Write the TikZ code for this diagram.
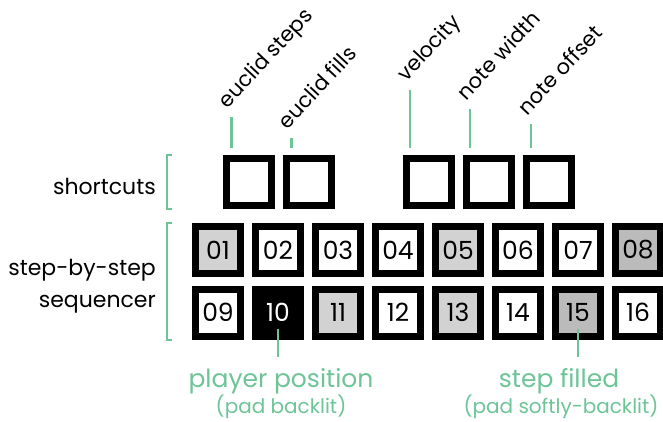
\documentclass[tikz,border=0pt]{standalone}
\usepackage{fontspec}
\setmainfont{Poppins}
\usetikzlibrary{positioning}
\definecolor{mint}{HTML}{6DC497}
\definecolor{dimgr}{HTML}{D2D2D2}
\definecolor{midgr}{HTML}{BBBBBB}
\tikzset{pad/.style={draw,line width=7pt,minimum width=45pt,minimum height=47pt,inner sep=0pt,font=\fontsize{25}{25}\selectfont},padlit/.style={pad,fill=dimgr},padsoft/.style={pad,fill=midgr},padhit/.style={pad,fill=black,text=white},lead/.style={mint,line width=2.2pt},brk/.style={mint,line width=2pt},toplab/.style={rotate=47,anchor=south west,inner sep=3pt,text depth=5pt,font=\fontsize{21}{21}\selectfont},sidelab/.style={inner sep=0pt,align=right,font=\fontsize{22}{32}\selectfont},botlab/.style={mint,anchor=base,inner sep=0pt,font=\fontsize{25}{25}\selectfont},sublab/.style={botlab,font=\fontsize{20}{20}\selectfont}}

\begin{document}
\begin{tikzpicture}[x=1pt,y=-1pt]
\useasboundingbox(0,0)rectangle(663,421);
% shortcut pads
\node[pad](s1)at(248.5,182){};\node[pad](s2)at(308.5,182){};
\node[pad](s3)at(429,182){};\node[pad](s4)at(489,182){};\node[pad](s5)at(549,182){};
% step pads
\node[padlit](p1)at(218,250){01};\node[pad](p2)at(278,250){02};\node[pad](p3)at(338,250){03};\node[pad](p4)at(398,250){04};
\node[padlit](p5)at(458,250){05};\node[pad](p6)at(518,250){06};\node[pad](p7)at(578,250){07};\node[padsoft](p8)at(638,250){08};
\node[pad](p9)at(218,312.5){09};\node[padhit](p10)at(278,312.5){10};\node[padlit](p11)at(338,312.5){11};\node[pad](p12)at(398,312.5){12};
\node[padlit](p13)at(458,312.5){13};\node[pad](p14)at(518,312.5){14};\node[padsoft](p15)at(578,312.5){15};\node[pad](p16)at(638,312.5){16};
% side labels and brackets
\node[sidelab,anchor=base east](lshort)at(156,194){shortcuts};
\node[sidelab,anchor=base east](lseq)at(156,307){step-by-step\\sequencer};
\coordinate(bx)at(167,0);
\draw[brk](s1.north-|bx)++(5,0)--(s1.north-|bx)--(s1.south-|bx)--++(5,0);
\draw[brk](p1.north-|bx)++(5,0)--(p1.north-|bx)--(p9.south-|bx)--++(5,0);
% shortcut labels
\foreach\n/\dx/\len/\txt in{s1/9/31/euclid steps,s2/9/10/euclid fills,s3/7/58/velocity,s4/7/39/note width,s5/8/24/note offset}{
\coordinate(\n-f)at([xshift=\dx pt,yshift=7pt]\n.north west);
\node[toplab](\n-l)at([yshift=\len pt]\n-f){\txt};
\draw[lead](\n-l.south west)--(\n-f);}
% pad states
\coordinate(bl)at(0,357);
\node[botlab](lplay)at(281,387){player position};\node[sublab](lplaysub)at(281,413){(pad backlit)};
\node[botlab](lfill)at(559,387){step filled};\node[sublab](lfillsub)at(561,413){(pad softly-backlit)};
\draw[lead]([yshift=-16pt]p10.center)--(p10|-bl);
\draw[lead]([yshift=-16pt]p15.center)--(p15|-bl);
\end{tikzpicture}
\end{document}
